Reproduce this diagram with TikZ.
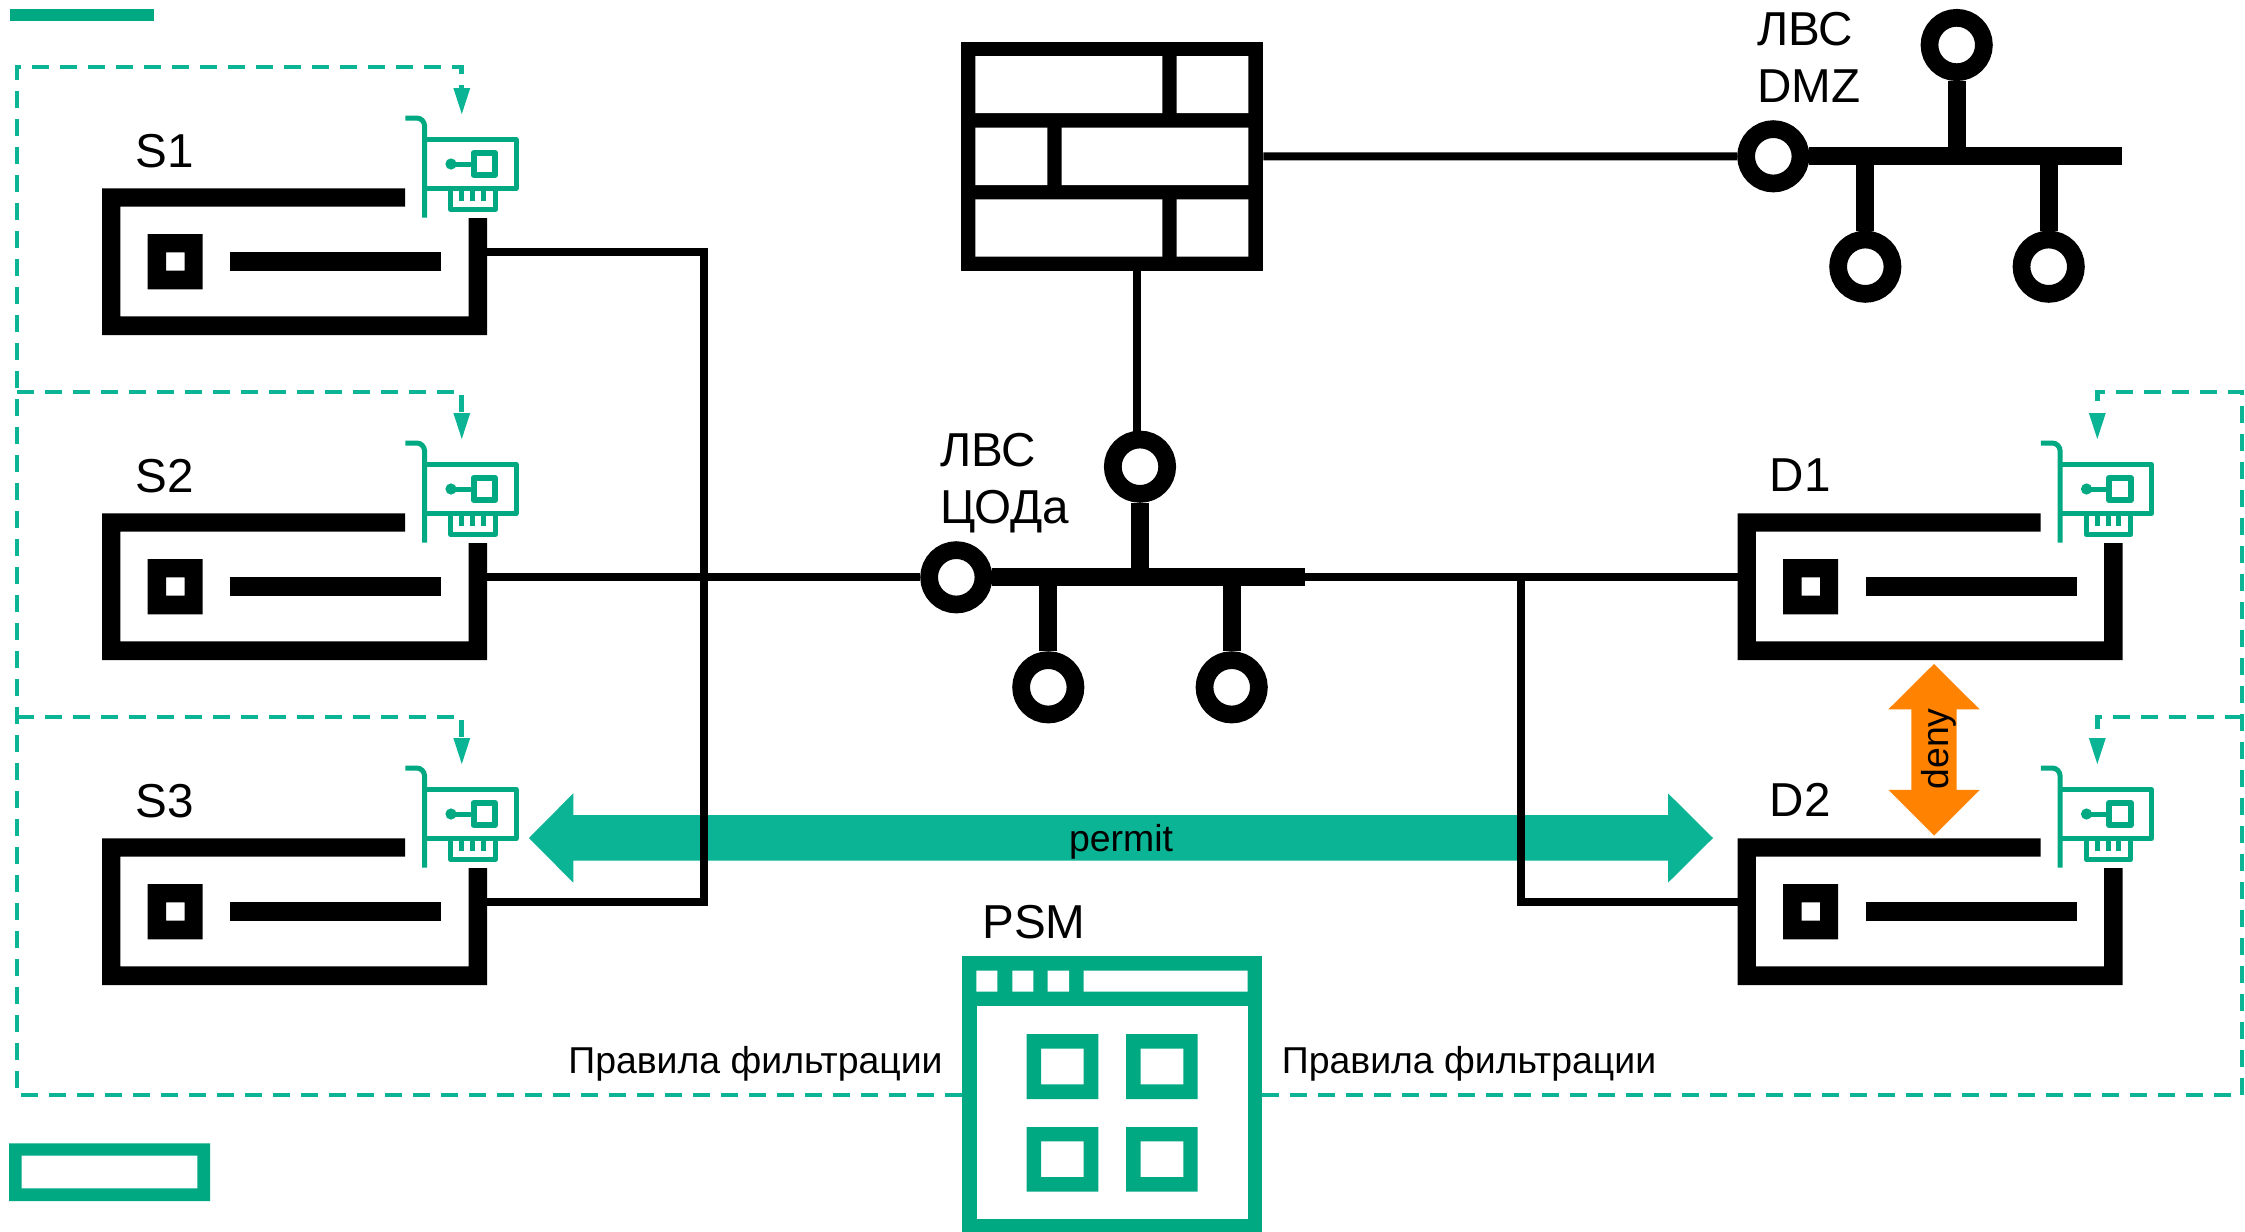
\documentclass[tikz,border=0pt]{standalone}
\usepackage{fontspec}
\setmainfont{Liberation Sans}
\usetikzlibrary{arrows.meta}
\definecolor{hpe}{HTML}{01A982}
\definecolor{flow}{HTML}{0AB495}
\definecolor{denyc}{HTML}{FF8300}
\tikzset{
  big/.style={font=\fontsize{23.8pt}{28.5pt}\selectfont,inner sep=0pt,anchor=base west,text=black},
  small/.style={font=\fontsize{18.7pt}{22pt}\selectfont,inner sep=0pt,text=black},
  wire/.style={draw=black,line width=4pt},
  busline/.style={draw=black,line width=9pt},
  ring/.style={circle,draw=black,fill=white,line width=8.85pt,minimum size=27.2pt,inner sep=0pt},
  nicline/.style={draw=hpe,line width=2.5pt},
  flowline/.style={draw=flow,line width=2.4pt,dash pattern=on 8.3pt off 5.7pt},
  flowarrow/.style={flowline,-{Triangle[length=13.5pt,width=7.7pt,fill=flow]}},
  pics/srv/.style={code={
    \fill[black] (102,188.3)--(405,188.3)--(405,206.7)--(120.4,206.7)--(120.4,316.3)--(468.6,316.3)--(468.6,218)--(487,218)--(487,335)--(102,335)--cycle;
    \fill[black,even odd rule] (147.5,234) rectangle (202.5,289.3) (166,252.3) rectangle (184.6,270.7);
    \fill[black] (230.4,252.3) rectangle (441.4,270.7);
    \draw[nicline,rounded corners=4pt] (405.4,118)--(424.6,118)--(424.6,217.5);
    \draw[nicline,line join=round] (424.6,139.5)--(516,139.5)--(516,188.5)--(424.6,188.5);
    \draw[nicline,line join=round,line width=3pt] (473.5,153) rectangle (495.3,175);
    \draw[nicline] (451,164)--(473.5,164);
    \fill[hpe] (451,164) circle (2.8pt);
    \draw[nicline,line join=round] (450.7,188.5)--(450.7,209.5)--(495.3,209.5)--(495.3,188.5);
    \draw[nicline] (461.8,188.5)--(461.8,201) (472.5,188.5)--(472.5,201) (483.4,188.5)--(483.4,201);
    \coordinate (-rport) at (487,252.3);
    \coordinate (-lport) at (102,252.3);
    \coordinate (-nic) at (461.8,115);
  }}
}
\begin{document}
\begin{tikzpicture}[x=0.5pt,y=-0.5pt]
\useasboundingbox (0,0) rectangle (2245,1232);
\fill[white] (0,0) rectangle (2245,1232);

% logo marks
\fill[hpe] (10,9) rectangle (154,21);
\fill[hpe,even odd rule] (9,1143.3) rectangle (210,1201) (21.7,1155.7) rectangle (197.3,1188.3);

% arrows under the wires
\fill[flow] (529,838) -- (573.3,793.3) -- (573.3,815) -- (1668,815) -- (1668,793.3) -- (1713,838) -- (1668,882.7) -- (1668,860.7) -- (573.3,860.7) -- (573.3,882.7) -- cycle;
\node[small] (permit) at (1121,842) {permit};
\fill[denyc] (1934,664) -- (1979.7,709.4) -- (1956.7,709.4) -- (1956.7,789.8) -- (1979.7,789.8) -- (1934,835.5) -- (1888.3,789.8) -- (1911.3,789.8) -- (1911.3,709.4) -- (1888.3,709.4) -- cycle;
\node[small,rotate=90] (deny) at (1939,749) {deny};

% servers
\pic (S1) at (0,0) {srv};
\pic (S2) at (0,325) {srv};
\pic (S3) at (0,650) {srv};
\pic (D1) at (1635.5,325) {srv};
\pic (D2) at (1635.5,650) {srv};

\node[big] (lS1) at (135,167) {S1};
\node[big] (lS2) at (135,492) {S2};
\node[big] (lS3) at (135,817) {S3};
\node[big] (lD1) at (1769.5,491.5) {D1};
\node[big] (lD2) at (1769.5,816.5) {D2};

% firewall
\node[fill=black,inner sep=0pt,minimum width=151pt,minimum height=114.65pt] (FW) at (1112,156.35) {};
\fill[white] (975.3,56) rectangle (1162.3,113) (1176.7,56) rectangle (1248.3,113)
  (975.3,127.7) rectangle (1047.3,185) (1061.7,127.7) rectangle (1248.3,185)
  (975.3,199.3) rectangle (1162.3,256.7) (1176.7,199.3) rectangle (1248.3,256.7);

% LAN hub (data centre)
\coordinate (Lend) at (1305,577.3);
\coordinate (Ljoin) at (1521.3,577.3);
\coordinate (Lvert) at (703.7,577.3);
\coordinate (FWdown) at (1137.3,434);
\node[ring] (Lleft) at (956.3,577.3) {};
\node[ring] (Ltop) at (1140,466.7) {};
\node[ring] (Lb1) at (1048.3,687.3) {};
\node[ring] (Lb2) at (1231.7,687.3) {};
\draw[busline] (Lleft) -- (Lend);
\draw[busline] (Ltop) -- (Ltop |- Lend);
\draw[busline] (Lb1) -- (Lb1 |- Lend);
\draw[busline] (Lb2) -- (Lb2 |- Lend);

% LAN hub (DMZ)
\coordinate (Dend) at (2122,156.3);
\node[ring] (Dleft) at (1773.3,156.3) {};
\node[ring] (Dtop) at (1956.7,45) {};
\node[ring] (Db1) at (1865.3,266.7) {};
\node[ring] (Db2) at (2048.7,266.7) {};
\draw[busline] (Dleft) -- (Dend);
\draw[busline] (Dtop) -- (Dtop |- Dend);
\draw[busline] (Db1) -- (Db1 |- Dend);
\draw[busline] (Db2) -- (Db2 |- Dend);

% wires
\draw[wire] (S1-rport) -| (Lvert) |- (S3-rport);
\draw[wire] (S2-rport) -- (Lleft);
\draw[wire] (Lend) -- (D1-lport);
\draw[wire] (Ljoin) |- (D2-lport);
\draw[wire] (FW.south -| FWdown) -- (FWdown);
\draw[wire] (FW.east) -- (Dleft);

\node[big,align=left] (lanA) at (940,523) {ЛВС\\ЦОДа};
\node[big,align=left] (lanB) at (1757,102) {ЛВС\\DMZ};

% PSM
\node[draw=hpe,fill=white,line width=7.35pt,minimum width=142.85pt,minimum height=131.7pt,inner sep=0pt] (PSM) at (1112.15,1095) {};
\fill[hpe] (969,966) rectangle (1255,1006);
\fill[white] (976.3,970.7) rectangle (997.3,991.7) (1012.3,970.7) rectangle (1033.3,991.7)
  (1047.7,970.7) rectangle (1069,991.7) (1083.7,970.7) rectangle (1247.7,991.7);
\fill[hpe,even odd rule] (1026.7,1034) rectangle (1098.3,1099) (1041,1048.7) rectangle (1083.7,1084.3);
\fill[hpe,even odd rule] (1126,1034) rectangle (1197.7,1099) (1140.7,1048.7) rectangle (1183.3,1084.3);
\fill[hpe,even odd rule] (1026.7,1127) rectangle (1098.3,1191.7) (1041,1141.3) rectangle (1083.7,1177);
\fill[hpe,even odd rule] (1126,1127) rectangle (1197.7,1191.7) (1140.7,1141.3) rectangle (1183.3,1177);
\node[big] (lPSM) at (982,938) {PSM};

% filter-rule routes
\coordinate (GL) at (17,1095);
\coordinate (GR) at (2242,1095);
\draw[flowarrow] (PSM.west) -- (GL) -- (GL |- 0,67) -- (S1-nic |- 0,67) -- (S1-nic);
\draw[flowarrow] (GL |- 0,392) -- (S2-nic |- 0,392) -- (S2-nic);
\draw[flowarrow] (GL |- 0,717) -- (S3-nic |- 0,717) -- (S3-nic);
\draw[flowarrow] (PSM.east) -- (GR) -- (GR |- 0,392) -- (D1-nic |- 0,392) -- (D1-nic);
\draw[flowarrow] (GR |- 0,717) -- (D2-nic |- 0,717) -- (D2-nic);

\node[small,anchor=base east] (ruleL) at (943,1073) {Правила фильтрации};
\node[small,anchor=base west] (ruleR) at (1281.5,1073) {Правила фильтрации};
\end{tikzpicture}
\end{document}
